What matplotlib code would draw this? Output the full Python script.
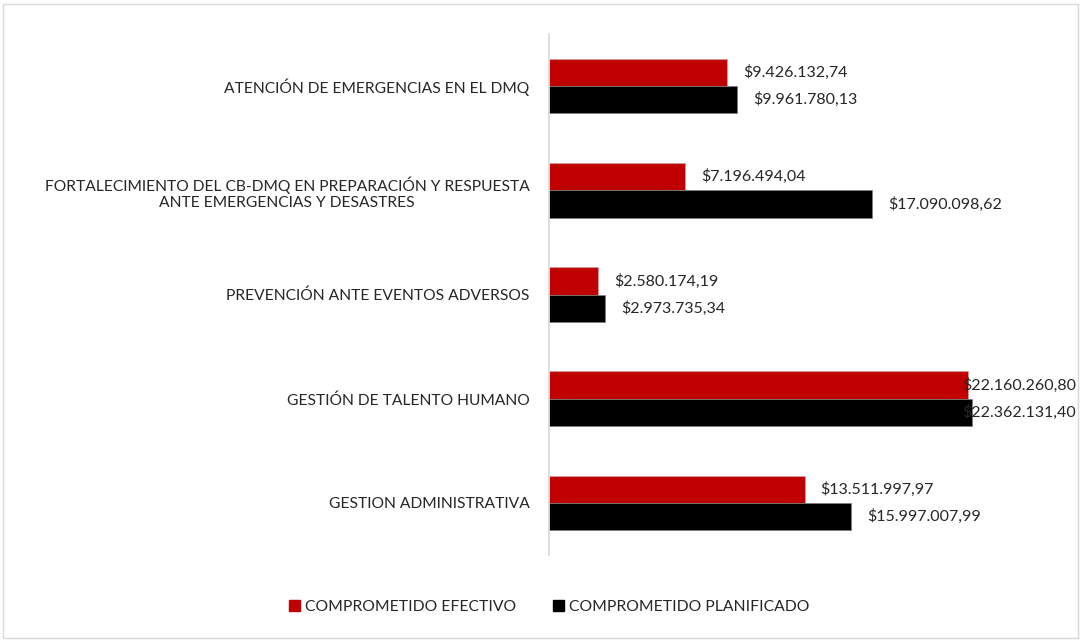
import matplotlib.pyplot as plt
from matplotlib.patches import Rectangle

categories = ['ATENCIÓN DE EMERGENCIAS EN EL DMQ',
              'FORTALECIMIENTO DEL CB-DMQ EN PREPARACIÓN Y RESPUESTA\nANTE EMERGENCIAS Y DESASTRES',
              'PREVENCIÓN ANTE EVENTOS ADVERSOS',
              'GESTIÓN DE TALENTO HUMANO',
              'GESTION ADMINISTRATIVA']
efectivo = [9426132.74, 7196494.04, 2580174.19, 22160260.80, 13511997.97]
planificado = [9961780.13, 17090098.62, 2973735.34, 22362131.40, 15997007.99]
series_names = ['COMPROMETIDO EFECTIVO', 'COMPROMETIDO PLANIFICADO']
colors = ['#c00000', '#000000']

def fmt(v):
    s = '{:,.2f}'.format(v)
    s = s.replace(',', 'X').replace('.', ',').replace('X', '.')
    return '$' + s

plt.rcParams['font.family'] = ['Lato', 'DejaVu Sans']
txtcol = '#262626'

W, H = 1081, 641
fig = plt.figure(figsize=(W / 100, H / 100), dpi=100)
xmax = 24e6
ax = fig.add_axes([0.508, 0.134, xmax * 18.9e-6 / W, 0.813])

n = len(categories)
ypos = list(range(n))
h = 0.262
ax.set_xlim(0, xmax)
ax.set_ylim(n - 0.5, -0.5)

labels = []
for i, (e, p) in enumerate(zip(efectivo, planificado)):
    ax.barh(i - h/2, e, height=h, color=colors[0], edgecolor='#d9a0a0', linewidth=0.5)
    ax.barh(i + h/2, p, height=h, color=colors[1], edgecolor='#808080', linewidth=0.5)
    for val, yy in ((e, i - h/2), (p, i + h/2)):
        t = ax.annotate(fmt(val), xy=(val, yy), xytext=(11.5, 0), textcoords='offset points',
                        va='center', ha='left', fontsize=11.5, color=txtcol,
                        annotation_clip=False, zorder=5)
        labels.append(t)

ax.set_yticks(ypos)
ax.set_yticklabels(categories, fontsize=11.25, color=txtcol, multialignment='center')
ax.tick_params(axis='y', length=0, pad=14)
ax.set_xticks([])
for s in ['top', 'right', 'bottom']:
    ax.spines[s].set_visible(False)
ax.spines['left'].set_color('#d9d9d9')
ax.spines['left'].set_linewidth(1.2)

# keep labels inside the chart area (pushed left like Excel does)
fig.canvas.draw()
r = fig.canvas.get_renderer()
for t in labels:
    bb = t.get_window_extent(r)
    if bb.x1 > W - 5:
        t.set_position((-(bb.x1 - (W - 5)) * 72 / 100 + 11.5, 0))

handles = [Rectangle((0, 0), 1, 1, color=c) for c in colors]
fig.legend(handles, series_names, loc='center', bbox_to_anchor=(0.508, 0.053), ncol=2,
           frameon=False, fontsize=11.3, handlelength=0.7, handleheight=0.7,
           handletextpad=0.3, columnspacing=2.4, labelcolor=txtcol)

border = Rectangle((0.003, 0.004), 0.994, 0.99, transform=fig.transFigure,
                   fill=False, edgecolor='#d9d9d9', linewidth=1)
fig.patches.append(border)

fig.savefig('out.png', dpi=100)
